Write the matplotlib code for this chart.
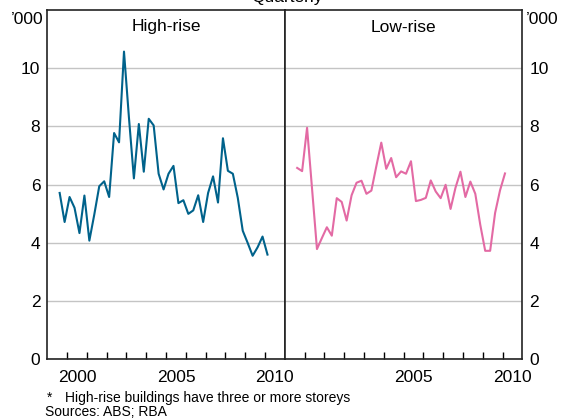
import numpy as np
import matplotlib
matplotlib.use('Agg')
import matplotlib.pyplot as plt
from matplotlib.ticker import FixedLocator

plt.rcParams['font.family'] = ['Liberation Sans', 'DejaVu Sans']

# Datos trimestrales, 1999 T3 a 2010 T1 ('000 viviendas)
trimestres = np.arange(1999.625, 2010.126, 0.25)

alto = [5.71, 4.71, 5.57, 5.20, 4.33, 5.62, 4.07, 4.97, 5.94, 6.11,
        5.57, 7.77, 7.45, 10.57, 8.30, 6.21, 8.08, 6.44, 8.26, 8.03,
        6.37, 5.83, 6.37, 6.64, 5.36, 5.46, 4.99, 5.11, 5.63, 4.71,
        5.71, 6.28, 5.38, 7.59, 6.47, 6.37, 5.54, 4.41, 3.99, 3.55,
        3.84, 4.21, 3.59]

bajo = [6.57, 6.46, 7.95, 5.87, 3.78, 4.16, 4.53, 4.24, 5.53, 5.40,
        4.76, 5.63, 6.06, 6.13, 5.68, 5.79, 6.63, 7.44, 6.54, 6.91,
        6.25, 6.45, 6.37, 6.80, 5.43, 5.47, 5.54, 6.14, 5.76, 5.53,
        5.99, 5.16, 5.89, 6.44, 5.57, 6.10, 5.68, 4.62, 3.72, 3.72,
        5.02, 5.80, 6.38]

paneles = ['High-rise', 'Low-rise']
series = [alto, bajo]
colores = ['#00628b', '#e36aa4']
etiquetas_x = [['2000', '2005', '2010'], ['2005', '2010']]
y_ticks = [0, 2, 4, 6, 8, 10]

fig = plt.figure(figsize=(5.7, 4.19), dpi=100)
ancho = (522.3 - 47.3) / 570 / 2
izq = 47.3 / 570
abajo = 60 / 419
alto_ax = 349 / 419
ejes = [fig.add_axes([izq, abajo, ancho, alto_ax]),
        fig.add_axes([izq + ancho, abajo, ancho, alto_ax])]

for i, ax in enumerate(ejes):
    ax.plot(trimestres, series[i], color=colores[i], linewidth=1.5, zorder=3)
    ax.set_xlim(1999, 2011)
    ax.set_ylim(0, 12)
    ax.set_yticks(y_ticks)
    ax.yaxis.grid(True, color='#c4c4c4', linewidth=1.0)
    ax.set_axisbelow(True)
    pos = [float(t) + 0.5 for t in etiquetas_x[i]]
    ax.set_xticks(pos)
    ax.set_xticklabels(etiquetas_x[i])
    ax.xaxis.set_minor_locator(FixedLocator(np.arange(2000, 2011)))
    ax.tick_params(axis='x', which='major', length=0, pad=8, labelsize=12.5)
    ax.tick_params(axis='x', which='minor', direction='in', length=5, width=1)
    ax.tick_params(axis='y', length=0, labelsize=12.5, pad=5)
    for s in ax.spines.values():
        s.set_linewidth(1.2)
        s.set_color('#222222')
    ax.text(0.5, 1 - 17 / 349, paneles[i], transform=ax.transAxes,
            ha='center', va='center', fontsize=12.5)

ejes[1].yaxis.tick_right()

fig.text(27 / 570, 1 - 20 / 419, "\u2019000", ha='center', va='center', fontsize=12.5)
fig.text(542 / 570, 1 - 20 / 419, "\u2019000", ha='center', va='center', fontsize=12.5)
fig.text(287 / 570, 1 - 2 / 419, 'Quarterly', ha='center', va='baseline', fontsize=12.5)

fig.text(47 / 570, 1 - 398 / 419, '*', ha='left', va='center', fontsize=10)
fig.text(65 / 570, 1 - 398 / 419, 'High-rise buildings have three or more storeys',
         ha='left', va='center', fontsize=10)
fig.text(45 / 570, 1 - 411.5 / 419, 'Sources: ABS; RBA', ha='left', va='center', fontsize=10)

fig.savefig('out.png', dpi=100)
